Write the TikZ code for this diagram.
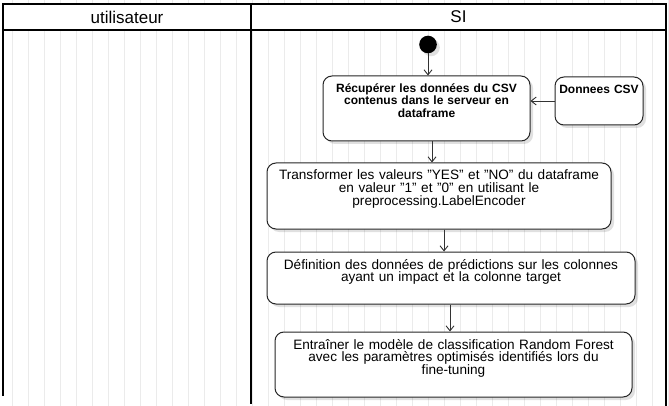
\documentclass[tikz,border=0pt]{standalone}
\usepackage{fontspec}
\setmainfont{Liberation Sans}
\usetikzlibrary{arrows.meta, positioning, shadows}

\begin{document}
\begin{tikzpicture}[x=1pt, y=-1pt]
	\tikzset{>={Straight Barb[length=5pt, width=8pt]},
		lane/.style={line width=2pt, draw=black},
		gridline/.style={draw=black!8, line width=0.8pt},
		lanetitle/.style={font=\fontsize{17}{19}\selectfont},
		action/.style={draw=black!85, line width=1pt, rounded corners=9pt, fill=white, align=center, inner xsep=0pt, inner ysep=0pt, text height=17pt, drop shadow={shadow xshift=3pt, shadow yshift=-3pt, opacity=0.12, fill=black}, font=\fontsize{13.6}{12.8}\selectfont},
		boldaction/.style={action, font=\fontsize{12}{12.5}\selectfont\bfseries, text height=16.5pt},
		start/.style={circle, fill=black, minimum size=17.6pt, inner sep=0pt, drop shadow={shadow xshift=3pt, shadow yshift=-3pt, opacity=0.12, fill=black}},
		flow/.style={->, draw=black!80, line width=0.9pt}}

	\useasboundingbox (0,0) rectangle (669,406);
	% background grid
	\draw[gridline, shift={(12,12)}] (-12,-12) grid[step=16] (657,394);

	% swimlanes
	\filldraw[lane, fill=white] (2.7,4) rectangle (666.3,30);
	\draw[lane] (2.7,30) -- (2.7,396);
	\draw[lane] (251,4) -- (251,404);
	\draw[lane] (666.3,30) -- (666.3,406);
	\node[lanetitle] (user) at (127,17) {utilisateur};
	\node[lanetitle] (si) at (458.5,17) {SI};

	% activities
	\node[start] (init) at (428,44.5) {};
	\node[boldaction, text width=207pt, text depth=48.5pt] (b1) at (426.5,108.5) {R\'ecup\'erer les donn\'ees du CSV\\contenus dans le serveur en\\dataframe};
	\node[boldaction, text width=88pt, text depth=31.5pt] (csv) at (599,101) {Donnees CSV};
	\node[action, text width=344pt, text depth=49pt] (b2) at (439,196) {Transformer les valeurs "YES" et "NO" du dataframe\\en valeur "1" et "0" en utilisant le\\preprocessing.LabelEncoder};
	\node[action, text width=368pt, text depth=35pt] (b3) at (451,278) {D\'efinition des donn\'ees de pr\'edictions sur les colonnes\\ayant un impact et la colonne target};
	\node[action, text width=357pt, text depth=48pt] (b4) at (453.5,364.5) {Entra\^iner le mod\`ele de classification Random Forest\\avec les param\`etres optimis\'es identifi\'es lors du\\fine-tuning};

	% transitions
	\draw[flow] (init) -- (init |- b1.north);
	\draw[flow] (csv.west) -- (csv.west -| b1.east);
	\draw[flow] ([xshift=5.5pt]b1.south) -- ([xshift=5.5pt]b1.south |- b2.north);
	\draw[flow] ([xshift=5pt]b2.south) -- ([xshift=5pt]b2.south |- b3.north);
	\draw[flow] ([xshift=-1pt]b3.south) -- ([xshift=-1pt]b3.south |- b4.north);
\end{tikzpicture}
\end{document}
